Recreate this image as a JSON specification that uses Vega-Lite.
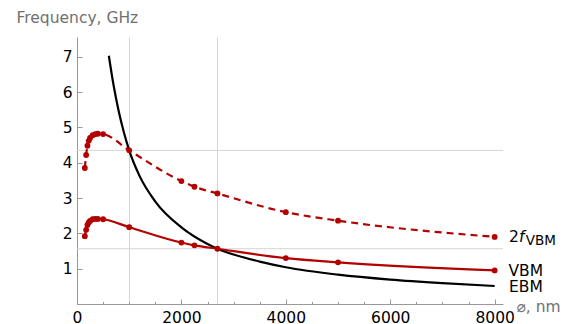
{
  "$schema": "https://vega.github.io/schema/vega-lite/v6.json",
  "width": 426,
  "height": 267,
  "autosize": {"type": "none"},
  "padding": {"left": 77, "top": 37, "right": 65, "bottom": 20},
  "background": "white",
  "config": {
    "view": {"stroke": null},
    "font": "DejaVu Sans",
    "axis": {
      "domainColor": "#999999",
      "tickColor": "#999999",
      "labelColor": "#000000",
      "labelFont": "DejaVu Sans",
      "labelFontSize": 15.5,
      "titleFont": "DejaVu Sans",
      "titleFontSize": 15.5,
      "titleFontWeight": "normal",
      "titleColor": "#707070",
      "gridColor": "#d4d4d4",
      "labelOverlap": false,
      "labelFlush": false,
      "labelBound": false
    }
  },
  "datasets": {
    "modes": [
      {"d": 150, "series": "VBM", "f": 1.92}, {"d": 175, "series": "VBM", "f": 2.1}, {"d": 200, "series": "VBM", "f": 2.24},
      {"d": 225, "series": "VBM", "f": 2.31}, {"d": 250, "series": "VBM", "f": 2.35}, {"d": 300, "series": "VBM", "f": 2.4},
      {"d": 350, "series": "VBM", "f": 2.41}, {"d": 400, "series": "VBM", "f": 2.41}, {"d": 500, "series": "VBM", "f": 2.4},
      {"d": 1000, "series": "VBM", "f": 2.175}, {"d": 2000, "series": "VBM", "f": 1.74}, {"d": 2250, "series": "VBM", "f": 1.66},
      {"d": 2690, "series": "VBM", "f": 1.565}, {"d": 4000, "series": "VBM", "f": 1.3}, {"d": 5000, "series": "VBM", "f": 1.18},
      {"d": 8000, "series": "VBM", "f": 0.95},
      {"d": 150, "series": "2f", "f": 3.85}, {"d": 175, "series": "2f", "f": 4.22}, {"d": 200, "series": "2f", "f": 4.48},
      {"d": 225, "series": "2f", "f": 4.62}, {"d": 250, "series": "2f", "f": 4.7}, {"d": 300, "series": "2f", "f": 4.78},
      {"d": 350, "series": "2f", "f": 4.81}, {"d": 400, "series": "2f", "f": 4.82}, {"d": 500, "series": "2f", "f": 4.81},
      {"d": 1000, "series": "2f", "f": 4.35}, {"d": 2000, "series": "2f", "f": 3.48}, {"d": 2250, "series": "2f", "f": 3.32},
      {"d": 2690, "series": "2f", "f": 3.13}, {"d": 4000, "series": "2f", "f": 2.6}, {"d": 5000, "series": "2f", "f": 2.36},
      {"d": 8000, "series": "2f", "f": 1.9}
    ],
    "ebm": [
      {"d": 610, "f": 7.03}, {"d": 700, "f": 6.2}, {"d": 800, "f": 5.45}, {"d": 900, "f": 4.85},
      {"d": 1000, "f": 4.35}, {"d": 1200, "f": 3.62}, {"d": 1500, "f": 2.9}, {"d": 2000, "f": 2.17},
      {"d": 2500, "f": 1.7}, {"d": 2690, "f": 1.565}, {"d": 3000, "f": 1.4}, {"d": 3500, "f": 1.2},
      {"d": 4000, "f": 1.04}, {"d": 5000, "f": 0.83}, {"d": 6000, "f": 0.69}, {"d": 7000, "f": 0.59},
      {"d": 8000, "f": 0.51}
    ],
    "hgrid": [{"f": 4.35}, {"f": 1.565}]
  },
  "layer": [
    {
      "data": {"name": "hgrid"},
      "mark": {"type": "rule", "color": "#d4d4d4", "strokeWidth": 1},
      "encoding": {
        "y": {"field": "f", "type": "quantitative", "scale": {"domain": [0, 7.56], "nice": false, "zero": false}}
      }
    },
    {
      "data": {"name": "ebm"},
      "mark": {"type": "line", "color": "#000000", "strokeWidth": 2.2, "interpolate": "monotone"},
      "encoding": {
        "x": {
          "field": "d", "type": "quantitative",
          "scale": {"domain": [0, 8160], "nice": false, "zero": false},
          "axis": {
            "title": "⌀, nm",
            "titleX": 439, "titleY": 7, "titleAlign": "left", "titleBaseline": "alphabetic", "titleAngle": 0,
            "values": [0, 500, 1000, 1500, 2000, 2500, 2690, 3000, 3500, 4000, 4500, 5000, 5500, 6000, 6500, 7000, 7500, 8000],
            "tickCount": 200,
            "labelExpr": "datum.value % 2000 === 0 ? datum.label : ''",
            "format": "d",
            "grid": true,
            "gridOpacity": {"condition": {"test": "datum.value === 1000 || datum.value === 2690", "value": 1}, "value": 0},
            "tickOpacity": {"condition": {"test": "datum.value === 2690", "value": 0}, "value": 1},
            "tickSize": {"condition": {"test": "datum.value % 2000 === 0", "value": -5}, "value": -2.5},
            "labelPadding": 11,
            "labelOverlap": false,
            "labelFlush": false
          }
        },
        "y": {
          "field": "f", "type": "quantitative",
          "scale": {"domain": [0, 7.56], "nice": false, "zero": false},
          "axis": {
            "title": "Frequency, GHz",
            "titleX": -61, "titleY": -15, "titleAlign": "left", "titleBaseline": "alphabetic", "titleAngle": 0,
            "tickCount": 38,
            "labelExpr": "datum.value % 1 === 0 && datum.value > 0 ? datum.label : ''",
            "labelFontSize": {"condition": {"test": "datum.value % 1 === 0 && datum.value > 0", "value": 15.5}, "value": 1},
            "format": "d",
            "grid": false,
            "tickOpacity": {"condition": {"test": "datum.value === 0", "value": 0}, "value": 1},
            "tickSize": {"condition": {"test": "datum.value % 1 === 0", "value": -5}, "value": -2.5},
            "labelPadding": 10,
            "labelOverlap": false,
            "labelFlush": false
          }
        }
      }
    },
    {
      "data": {"name": "modes"},
      "transform": [{"filter": "datum.series === 'VBM'"}],
      "mark": {"type": "line", "color": "#b30000", "strokeWidth": 2.2, "interpolate": "monotone", "point": {"filled": true, "color": "#b30000", "size": 34}},
      "encoding": {
        "x": {"field": "d", "type": "quantitative", "scale": {"domain": [0, 8160], "nice": false, "zero": false}},
        "y": {"field": "f", "type": "quantitative", "scale": {"domain": [0, 7.56], "nice": false, "zero": false}}
      }
    },
    {
      "data": {"name": "modes"},
      "transform": [{"filter": "datum.series === '2f'"}],
      "mark": {"type": "line", "color": "#b30000", "strokeWidth": 2.2, "strokeDash": [7, 5], "interpolate": "monotone", "point": {"filled": true, "color": "#b30000", "size": 34}},
      "encoding": {
        "x": {"field": "d", "type": "quantitative", "scale": {"domain": [0, 8160], "nice": false, "zero": false}},
        "y": {"field": "f", "type": "quantitative", "scale": {"domain": [0, 7.56], "nice": false, "zero": false}}
      }
    },
    {
      "data": {"values": [{"name": "VBM", "d": 8265, "f": 0.787}, {"name": "EBM", "d": 8275, "f": 0.345}]},
      "mark": {"type": "text", "align": "left", "baseline": "alphabetic", "fontSize": 15.5, "font": "DejaVu Sans", "color": "#000000"},
      "encoding": {
        "x": {"field": "d", "type": "quantitative", "scale": {"domain": [0, 8160], "nice": false, "zero": false}},
        "y": {"field": "f", "type": "quantitative", "scale": {"domain": [0, 7.56], "nice": false, "zero": false}},
        "text": {"field": "name"}
      }
    },
    {
      "data": {"values": [{"name": "2", "d": 8277, "f": 1.756}]},
      "mark": {"type": "text", "align": "left", "baseline": "alphabetic", "fontSize": 15.5, "font": "DejaVu Sans", "color": "#000000"},
      "encoding": {
        "x": {"field": "d", "type": "quantitative", "scale": {"domain": [0, 8160], "nice": false, "zero": false}},
        "y": {"field": "f", "type": "quantitative", "scale": {"domain": [0, 7.56], "nice": false, "zero": false}},
        "text": {"field": "name"}
      }
    },
    {
      "data": {"values": [{"name": "f", "d": 8277, "f": 1.756}]},
      "mark": {"type": "text", "align": "left", "baseline": "alphabetic", "fontSize": 15.5, "font": "DejaVu Sans", "fontStyle": "italic", "dx": 10, "color": "#000000"},
      "encoding": {
        "x": {"field": "d", "type": "quantitative", "scale": {"domain": [0, 8160], "nice": false, "zero": false}},
        "y": {"field": "f", "type": "quantitative", "scale": {"domain": [0, 7.56], "nice": false, "zero": false}},
        "text": {"field": "name"}
      }
    },
    {
      "data": {"values": [{"name": "VBM", "d": 8277, "f": 1.756}]},
      "mark": {"type": "text", "align": "left", "baseline": "alphabetic", "fontSize": 13.5, "font": "DejaVu Sans", "dx": 16.7, "dy": 3.2, "color": "#000000"},
      "encoding": {
        "x": {"field": "d", "type": "quantitative", "scale": {"domain": [0, 8160], "nice": false, "zero": false}},
        "y": {"field": "f", "type": "quantitative", "scale": {"domain": [0, 7.56], "nice": false, "zero": false}},
        "text": {"field": "name"}
      }
    }
  ]
}
